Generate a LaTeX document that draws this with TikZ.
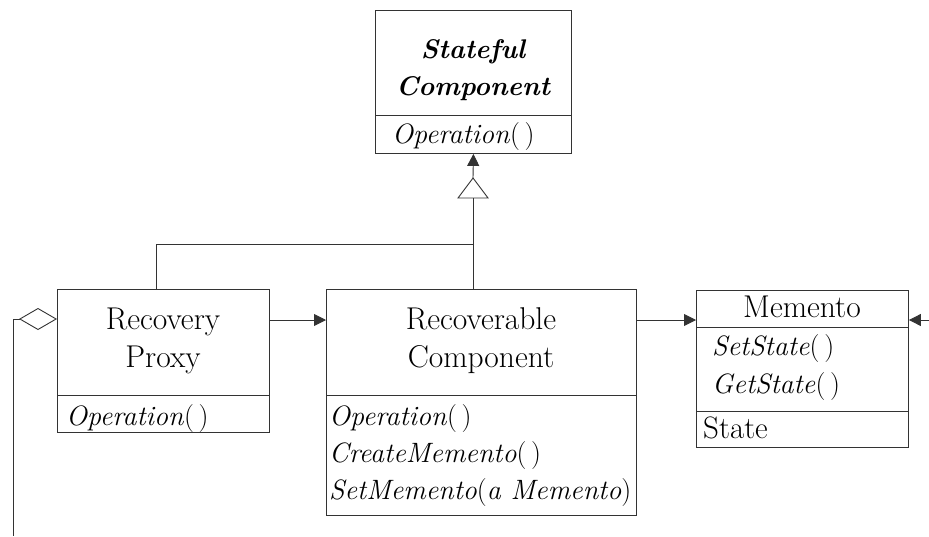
\documentclass[tikz,border=0pt]{standalone}
\usetikzlibrary{arrows.meta,calc}
\tikzset{
  umlbox/.style={draw=black!80, line width=0.9pt, rectangle, inner sep=0pt, anchor=north west},
  conn/.style={draw=black!80, line width=0.9pt},
  sep/.style={draw=black!80, line width=0.9pt},
  head/.style={font=\fontsize{31.5}{36}\selectfont, inner sep=0pt, anchor=base},
  headbi/.style={font=\fontsize{27}{32}\selectfont\bfseries\itshape, inner sep=0pt, anchor=base},
  member/.style={font=\fontsize{28}{33}\selectfont, inner sep=0pt, anchor=base west},
  attr/.style={font=\fontsize{31}{36}\selectfont, inner sep=0pt, anchor=base west},
  solidtip/.style={-{Triangle[length=12pt,width=12pt]}},
}
\begin{document}
\begin{tikzpicture}[x=1pt,y=-1pt]
\useasboundingbox (0,0) rectangle (929,536);

% Stateful Component
\node[umlbox, minimum width=196pt, minimum height=143pt] (sc) at (375,10) {};
\draw[sep] (375,115) -- (571,115);
\node[headbi] (scA) at (473,58) {Stateful};
\node[headbi] (scB) at (473,95) {Component};
\node[member] (scOp) at (392,143) {\textit{Operation}(\,)};

% Recovery Proxy
\node[umlbox, minimum width=212pt, minimum height=143pt] (rp) at (57,289) {};
\draw[sep] (57,395) -- (269,395);
\node[head] (rpA) at (163,329) {Recovery};
\node[head] (rpB) at (163,367) {Proxy};
\node[member] (rpOp) at (66,425) {\textit{Operation}(\,)};

% Recoverable Component
\node[umlbox, minimum width=310pt, minimum height=226pt] (rc) at (326,289) {};
\draw[sep] (326,395) -- (636,395);
\node[head] (rcA) at (481,329) {Recoverable};
\node[head] (rcB) at (481,367) {Component};
\node[member] (rcOp) at (329,425) {\textit{Operation}(\,)};
\node[member] (rcCm) at (329,462) {\textit{CreateMemento}(\,)};
\node[member] (rcSm) at (329,499) {\textit{SetMemento}(\textit{a Memento})};

% Memento
\node[umlbox, minimum width=212pt, minimum height=157pt] (me) at (696,290) {};
\draw[sep] (696,327) -- (908,327);
\draw[sep] (696,411) -- (908,411);
\node[head] (meA) at (802,317) {Memento};
\node[member] (meSet) at (712,355) {\textit{SetState}(\,)};
\node[member] (meGet) at (712,393) {\textit{GetState}(\,)};
\node[attr] (meSt) at (703,438) {State};

% Inheritance from Stateful Component
\coordinate (triBase) at (473,198);
\coordinate (triApex) at (473,178);
\coordinate (joint) at (473,244);
\draw[conn, fill=white] (triApex) -- (458,198) -- (488,198) -- cycle;
\draw[conn] (rc.north -| joint) -- (triBase);
\draw[conn] (rp.north -| 156,0) -- (156,244) -- (joint);
\draw[conn, solidtip] (triApex) -- (sc.south);

% Associations
\coordinate (rowY) at (0,320);
\draw[conn, solidtip] (rp.east |- rowY) -- (rc.west |- rowY);
\draw[conn, solidtip] (rc.east |- rowY) -- (me.west |- rowY);
\coordinate (inRight) at (929,320);
\draw[conn, solidtip] (inRight) -- (me.east |- inRight);

% Aggregation on Recovery Proxy
\coordinate (aggEnd) at (13,536);
\draw[conn, {Diamond[open,length=38pt,width=22pt]}-] ($(rp.north west)+(0,30)$) -| (aggEnd);
\end{tikzpicture}
\end{document}
